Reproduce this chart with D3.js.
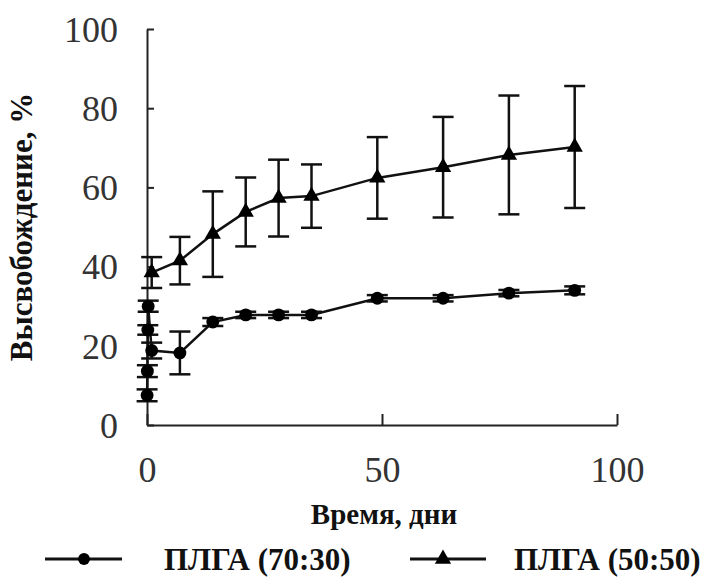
<!DOCTYPE html>
<html><head><meta charset="utf-8">
<script src="https://cdn.jsdelivr.net/npm/d3@7"></script>
<style>body{margin:0;background:#fff}svg{display:block}</style>
</head><body>
<svg id="chart" width="709" height="583"></svg>
<script>
// Data
const xTicks = [0, 50, 100];
const yTicks = [0, 20, 40, 60, 80, 100];
const days7030 = [0.02, 0.08, 0.17, 0.25, 1, 7, 14, 21, 28, 35, 49, 63, 77, 91];
const release7030 = [7.5, 13.6, 24, 30, 18.8, 18.2, 26, 27.8, 27.8, 27.8, 32, 32, 33.3, 34];
const err7030 = [1.5, 1.5, 1.2, 1.4, 2, 5.4, 1, 0.8, 0.8, 0.8, 0.8, 0.8, 0.8, 1];
const days5050 = [1, 7, 14, 21, 28, 35, 49, 63, 77, 91];
const release5050 = [38.5, 41.5, 48.2, 53.8, 57.3, 57.8, 62.4, 65.1, 68.2, 70.2];
const err5050 = [3.9, 6, 10.8, 8.7, 9.7, 8, 10.3, 12.7, 15, 15.4];
const seriesNames = ["ПЛГА (70:30)", "ПЛГА (50:50)"];
const xTitle = "Время, дни";
const yTitle = "Высвобождение, %";

const svg = d3.select("#chart");
const x = d3.scaleLinear().domain([0, 100]).range([147, 617]);
const y = d3.scaleLinear().domain([0, 100]).range([425, 29]);
const serif = "'Liberation Serif', 'Times New Roman', serif";

// axes
const gx = svg.append("g").attr("transform", `translate(0,${y(0)})`)
  .call(d3.axisBottom(x).tickValues(xTicks).tickSizeInner(-11).tickSizeOuter(0).tickPadding(31));
const gy = svg.append("g").attr("transform", `translate(${x(0)},0)`)
  .call(d3.axisLeft(y).tickValues(yTicks).tickSizeInner(-7).tickSizeOuter(0).tickPadding(29));
[gx, gy].forEach(g => {
  g.select(".domain").attr("stroke", "#222").attr("stroke-width", 2);
  g.selectAll(".tick line").attr("stroke", "#222").attr("stroke-width", 2);
  g.selectAll(".tick text").attr("fill", "#333").style("font-family", serif).style("font-size", "36px");
});
gy.selectAll(".tick text").attr("dy", "0.34em");

// series
const s1 = days7030.map((d, i) => ({x: d, y: release7030[i], e: err7030[i]}));
const s2 = days5050.map((d, i) => ({x: d, y: release5050[i], e: err5050[i]}));
const line = d3.line().x(d => x(d.x)).y(d => y(d.y));
const capW = 10.5;

function drawSeries(data, symbol, size) {
  const g = svg.append("g");
  const eb = g.selectAll(".eb").data(data).enter().append("g").attr("stroke", "#111").attr("stroke-width", 2.5);
  eb.append("line").attr("x1", d => x(d.x)).attr("x2", d => x(d.x)).attr("y1", d => y(d.y - d.e)).attr("y2", d => y(d.y + d.e));
  eb.append("line").attr("x1", d => x(d.x) - capW).attr("x2", d => x(d.x) + capW).attr("y1", d => y(d.y + d.e)).attr("y2", d => y(d.y + d.e));
  eb.append("line").attr("x1", d => x(d.x) - capW).attr("x2", d => x(d.x) + capW).attr("y1", d => y(d.y - d.e)).attr("y2", d => y(d.y - d.e));
  g.append("path").datum(data).attr("d", line).attr("fill", "none").attr("stroke", "#111").attr("stroke-width", 2.5);
  g.selectAll(".m").data(data).enter().append("path")
    .attr("d", d3.symbol().type(symbol).size(size))
    .attr("transform", d => `translate(${x(d.x)},${y(d.y)})`)
    .attr("fill", "#000");
}
drawSeries(s1, d3.symbolCircle, 130);
drawSeries(s2, d3.symbolTriangle, 115);

// titles
svg.append("text").attr("x", 384).attr("y", 524).attr("text-anchor", "middle")
  .style("font-family", serif).style("font-weight", "bold").style("font-size", "29px").attr("fill", "#111").text(xTitle);
svg.append("text").attr("transform", "translate(32,227) rotate(-90)").attr("text-anchor", "middle")
  .style("font-family", serif).style("font-weight", "bold").style("font-size", "31px").attr("fill", "#111").text(yTitle);

// legend
const legend = [{x0: 45, x1: 122, mx: 84, tx: 164, sym: d3.symbolCircle, size: 110},
                {x0: 410, x1: 486, mx: 443, tx: 514, sym: d3.symbolTriangle, size: 115}];
const ly = 559;
legend.forEach((l, i) => {
  svg.append("line").attr("x1", l.x0).attr("x2", l.x1).attr("y1", ly).attr("y2", ly).attr("stroke", "#111").attr("stroke-width", 3);
  svg.append("path").attr("d", d3.symbol().type(l.sym).size(l.size)).attr("transform", `translate(${l.mx},${ly})`).attr("fill", "#000");
  svg.append("text").attr("x", l.tx).attr("y", 570).style("font-family", serif).style("font-weight", "bold")
    .style("font-size", "31px").attr("fill", "#111").text(seriesNames[i]);
});
</script>
</body></html>
